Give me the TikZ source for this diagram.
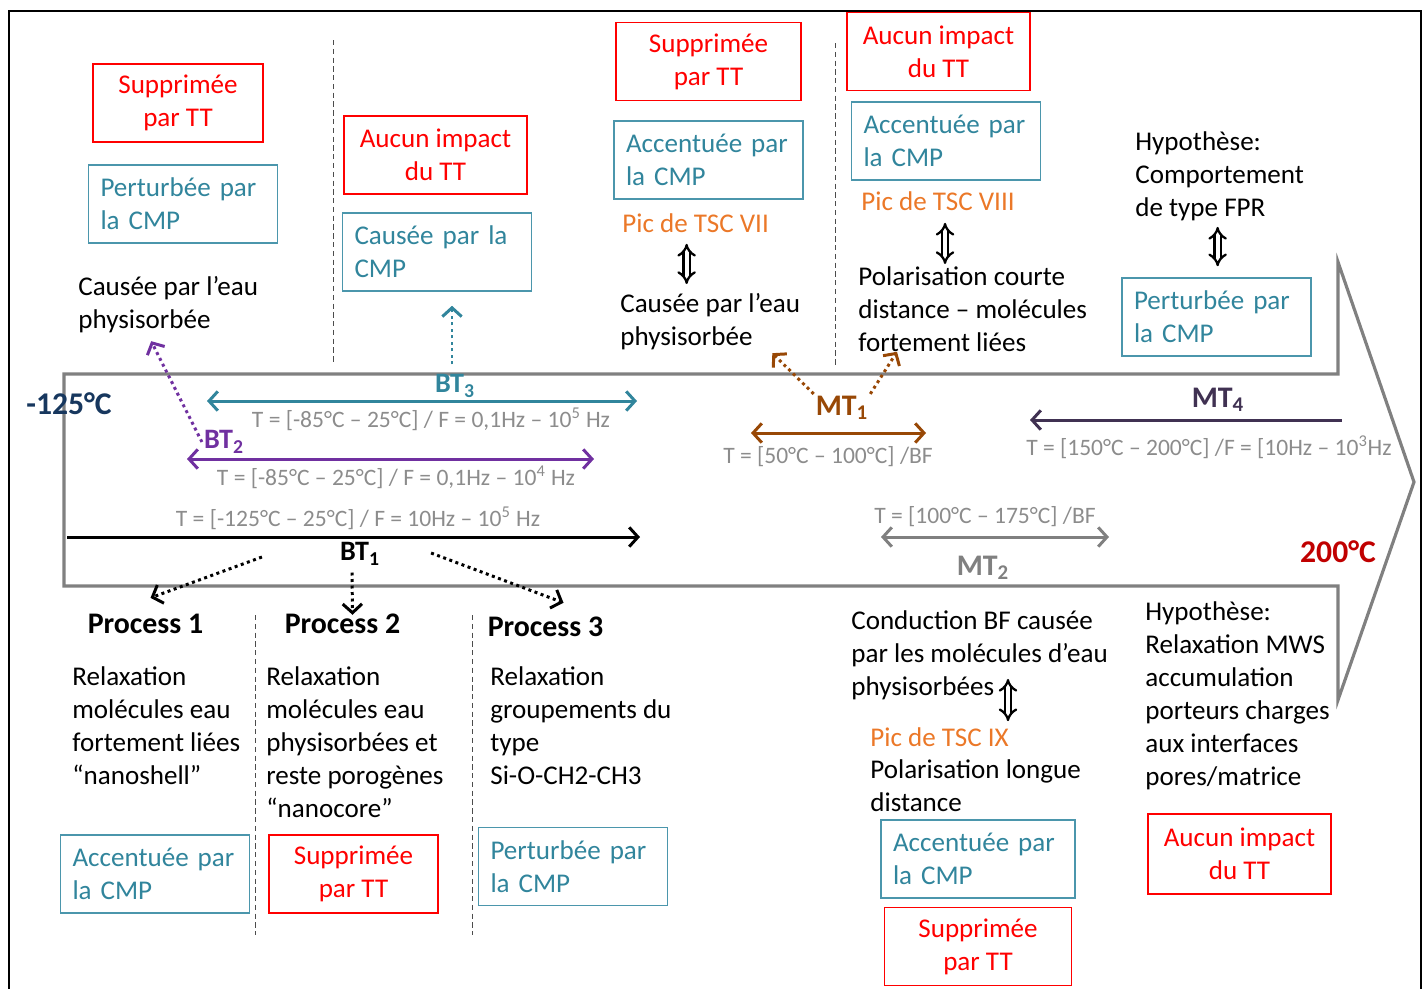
\documentclass[tikz,border=0pt]{standalone}
\usepackage{fontspec}
\setmainfont{Carlito}
\usepackage{tikz}
\usetikzlibrary{positioning, arrows.meta, calc}

\definecolor{rougeTT}{RGB}{255,0,0}
\definecolor{bleuCMP}{RGB}{49,133,156}
\definecolor{cadreCMP}{RGB}{75,150,172}
\definecolor{orangeTSC}{RGB}{235,120,40}
\definecolor{bleuNuit}{RGB}{23,55,94}
\definecolor{violetBT}{RGB}{112,48,160}
\definecolor{brunMT}{RGB}{152,72,6}
\definecolor{violetMT}{RGB}{64,49,82}
\definecolor{grisMT}{RGB}{128,128,128}
\definecolor{grisTexte}{RGB}{140,140,140}
\definecolor{rougeTemp}{RGB}{192,0,0}
\definecolor{grisFleche}{RGB}{128,128,128}

\newcommand{\policeTexte}{\fontsize{15.4}{18.8}\selectfont}
\newcommand{\policePlage}{\fontsize{13.4}{15}\selectfont}
\newcommand{\policeLab}{\bfseries\fontsize{16}{18}\selectfont}
\newcommand{\policeTemp}{\bfseries\fontsize{18}{20}\selectfont}

\begin{document}
\begin{tikzpicture}[x=0.02cm, y=-0.02cm,
    every node/.style={font=\policeTexte},
    >={Straight Barb[length=5pt,width=11pt]},
    tt/.style={draw=rougeTT, text=rougeTT, line width=0.9pt, align=center, minimum width=3.66cm, minimum height=1.56cm, inner sep=0pt},
    cmp/.style={draw=cadreCMP, text=bleuCMP, line width=0.9pt, align=left, text width=3.3cm, inner xsep=0.24cm, inner ysep=0pt, minimum height=1.56cm},
    texte/.style={align=left, inner sep=0pt, anchor=north west},
    tsc/.style={text=orangeTSC, inner sep=0pt, anchor=west},
    process/.style={font=\bfseries\fontsize{17}{19}\selectfont, inner sep=0pt},
    lab/.style={font=\policeLab, inner sep=1pt},
    plage/.style={font=\policePlage, text=grisTexte, inner sep=0pt},
    temp/.style={font=\policeTemp, inner sep=0pt},
    trait/.style={line width=1.7pt},
    pointille/.style={dotted, line width=1.7pt, ->},
    sep/.style={densely dashed, line width=0.5pt, black!70},
    dbl/.style={double, double distance=2.2pt, line width=1.3pt, {Implies}-{Implies}}]

    \useasboundingbox (0,0) rectangle (1424,988);
    \draw[line width=0.8pt] (9,11) rectangle (1421,1010);

    % Grande fleche
    \draw[grisFleche, line width=1.8pt, line join=miter] (64,374) -- (1338,374) -- (1338,262) -- (1414,482) -- (1338,700) -- (1338,586) -- (64,586) -- cycle;

    % Separateurs
    \draw[sep] (333,40) -- (333,362);
    \draw[sep] (835,43) -- (835,365);
    \draw[sep] (255,615) -- (255,935);
    \draw[sep] (472,615) -- (472,935);

    % Haut
    \node[tt, minimum width=3.4cm] (tt1) at (178,103) {Supprimée\\par TT};
    \node[cmp] (cmp1) at (183,204) {Perturbée par\\la CMP};
    \node[texte] (eauL) at (78,276) {Causée par l’eau\\physisorbée};
    \node[tt] (tt2) at (435.5,155) {Aucun impact\\du TT};
    \node[cmp] (cmp2) at (437,252) {Causée par la\\CMP};
    \node[tt, minimum width=3.7cm] (tt3) at (708.5,61.5) {Supprimée\\par TT};
    \node[cmp, below=0.38cm of tt3] (cmp3) {Accentuée par\\la CMP};
    \node[tsc] (tsc7) at (622,223) {Pic de TSC VII};
    \node[texte] (eau7) at (620,293) {Causée par l’eau\\physisorbée};
    \node[tt] (tt4) at (938.5,51.5) {Aucun impact\\du TT};
    \node[cmp] (cmp4) at (946,141) {Accentuée par\\la CMP};
    \node[tsc] (tsc8) at (861,201) {Pic de TSC VIII};
    \node[texte] (pol8) at (858,266) {Polarisation courte\\distance – molécules\\fortement liées};
    \node[texte] (fpr) at (1135,131) {Hypothèse:\\Comportement\\de type FPR};
    \node[cmp] (cmp5) at (1216.5,317) {Perturbée par\\la CMP};

    % Plages de temperature
    \node[temp, text=bleuNuit] (tmin) at (69,404) {-125°C};
    \node[temp, text=rougeTemp] (tmax) at (1338,552) {200°C};

    \coordinate (bt3g) at (207,401);
    \coordinate (bt3d) at (637,401);
    \draw[trait, bleuCMP, <->] (bt3g) -- (bt3d);
    \node[lab, text=bleuCMP] (bt3) at (455,386) {BT\textsubscript{3}};
    \node[plage] (bt3p) at (431,419) {T = [-85°C – 25°C] / F = 0,1Hz – 10\textsuperscript{5} Hz};

    \coordinate (bt2g) at (187,459);
    \coordinate (bt2d) at (594,459);
    \draw[trait, violetBT, <->] (bt2g) -- (bt2d);
    \node[lab, text=violetBT] (bt2) at (224,442) {BT\textsubscript{2}};
    \node[plage] (bt2p) at (396,477) {T = [-85°C – 25°C] / F = 0,1Hz – 10\textsuperscript{4} Hz};

    \coordinate (bt1g) at (67,537);
    \coordinate (bt1d) at (640,537);
    \draw[trait, ->] (bt1g) -- (bt1d);
    \node[lab] (bt1) at (360,554) {BT\textsubscript{1}};
    \node[plage] (bt1p) at (358,518) {T = [-125°C – 25°C] / F = 10Hz – 10\textsuperscript{5} Hz};

    \coordinate (mt1g) at (751,433);
    \coordinate (mt1d) at (926,433);
    \draw[trait, brunMT, <->] (mt1g) -- (mt1d);
    \node[lab, text=brunMT, font=\bfseries\fontsize{17}{19}\selectfont] (mt1) at (842,408) {MT\textsubscript{1}};
    \node[plage] (mt1p) at (828,457) {T = [50°C – 100°C] /BF};

    \coordinate (mt4g) at (1030,420);
    \coordinate (mt4d) at (1342,420);
    \draw[trait, violetMT, <-] (mt4g) -- (mt4d);
    \node[lab, text=violetMT, font=\bfseries\fontsize{17}{19}\selectfont] (mt4) at (1218,400) {MT\textsubscript{4}};
    \node[plage] (mt4p) at (1209,447) {T = [150°C – 200°C] /F = [10Hz – 10\textsuperscript{3}Hz};

    \coordinate (mt2g) at (881,537);
    \coordinate (mt2d) at (1109,537);
    \draw[trait, grisMT, <->] (mt2g) -- (mt2d);
    \node[lab, text=grisMT, font=\bfseries\fontsize{17}{19}\selectfont] (mt2) at (983,568) {MT\textsubscript{2}};
    \node[plage] (mt2p) at (985,517) {T = [100°C – 175°C] /BF};

    % Bas
    \node[process] (p1) at (145.5,624) {Process 1};
    \node[process] (p2) at (342.5,624) {Process 2};
    \node[process] (p3) at (545.5,627) {Process 3};
    \node[texte] (rel1) at (72,666) {Relaxation\\molécules eau\\fortement liées\\“nanoshell”};
    \node[texte] (rel2) at (266,666) {Relaxation\\molécules eau\\physisorbées et\\reste porogènes\\“nanocore”};
    \node[texte] (rel3) at (490,666) {Relaxation\\groupements du\\type\\Si-O-CH2-CH3};
    \node[cmp] (cmp6) at (155,874) {Accentuée par\\la CMP};
    \node[tt, minimum width=3.38cm] (tt5) at (353.5,874) {Supprimée\\par TT};
    \node[cmp] (cmp7) at (573,866.5) {Perturbée par\\la CMP};
    \node[texte] (cond) at (851,610) {Conduction BF causée\\par les molécules d’eau\\physisorbées};
    \node[tsc] (tsc9) at (870,737) {Pic de TSC IX};
    \node[texte] (pol9) at (870,759) {Polarisation longue\\distance};
    \node[cmp, text width=3.4cm] (cmp8) at (978,859) {Accentuée par\\la CMP};
    \node[tt, minimum width=3.74cm, below=0.16cm of cmp8] (tt6) {Supprimée\\par TT};
    \node[texte] (mws) at (1145,601) {Hypothèse:\\Relaxation MWS\\accumulation\\porteurs charges\\aux interfaces\\pores/matrice};
    \node[tt, minimum height=1.6cm] (tt7) at (1239.5,854) {Aucun impact\\du TT};

    % Liaisons
    \draw[pointille, violetBT] (bt2.west) -- ($(eauL.south)+(-17,8)$);
    \draw[pointille, bleuCMP] ($(bt3.north)+(-3,-8)$) -- ($(cmp2.south)+(15,14)$);
    \draw[pointille, brunMT] (mt1.north west) -- ($(eau7.south east)+(-28,3)$);
    \draw[pointille, brunMT] (mt1.north east) -- ($(pol8.south west)+(39,0)$);
    \draw[pointille] ($(bt1.west)+(-76,3)$) -- ($(p1.north)+(5,-16)$);
    \draw[pointille] ($(bt1.south)+(-8,5)$) -- ($(p2.north)+(10,1)$);
    \draw[pointille] ($(bt1.east)+(49,-1)$) -- ($(p3.north)+(18,-14)$);

    \draw[dbl] ($(tsc7.south)+(-9,11)$) -- ($(tsc7.south |- eau7.north)+(-9,-9)$);
    \draw[dbl] ($(tsc8.south)+(7,12)$) -- ($(tsc8.south |- pol8.north)+(7,-2)$);
    \draw[dbl] ($(fpr.south)+(-2,6)$) -- ($(fpr.south |- cmp5.north)+(-2,-11)$);
    \draw[dbl] ($(cond.south west)+(157,-21)$) -- ($(tsc9.north west)+(138,-6)$);
\end{tikzpicture}
\end{document}
